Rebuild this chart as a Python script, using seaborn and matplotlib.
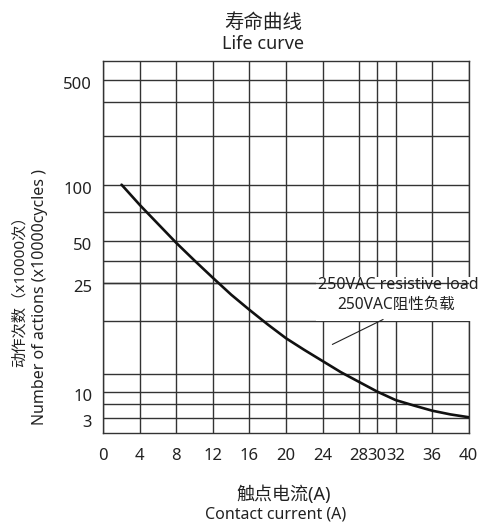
import numpy as np
import pandas as pd
import matplotlib
matplotlib.use("Agg")
import matplotlib.pyplot as plt
import matplotlib.transforms as mtransforms
from matplotlib.patches import Rectangle
import seaborn as sns

# ---- data ----
current = [2, 4, 6, 8, 10, 12, 14, 16, 18, 20, 22, 24, 26, 28, 30, 32, 34, 36, 38, 40]
cycles = [100, 81.6, 64.9, 48.7, 35, 27.4, 23.5, 21.5, 19.7, 18.4, 17.3, 16.25,
          15.2, 12.8, 10, 7.2, 5.6, 4.5, 3.7, 3.1]
x_ticks = [0, 4, 8, 12, 16, 20, 24, 28, 30, 32, 36, 40]
y_ticks = [3, 10, 25, 50, 100, 500]
y_tick_labels = ["3", "10", "25", "50", "100", "500"]
y_grid_extra = [6, 15, 20, 35, 75, 250, 400]

# irregular y axis of the original chart: value -> fraction of axis height
scale_vals = [0, 3, 6, 10, 15, 20, 25, 35, 50, 75, 100, 250, 400, 500, 600]
scale_pos = [0, 0.0403, 0.0780, 0.1102, 0.1570, 0.2995, 0.4016, 0.4624,
             0.5145, 0.5925, 0.6667, 0.7970, 0.8882, 0.9489, 1.0]


def fwd(v):
    return np.interp(v, scale_vals, scale_pos)


def inv(p):
    return np.interp(p, scale_pos, scale_vals)


sns.set_style("white")
plt.rcParams["font.family"] = ["Noto Sans", "Noto Sans CJK SC", "DejaVu Sans"]
plt.rcParams["axes.unicode_minus"] = False

df = pd.DataFrame({"current": current, "cycles": cycles})

fig = plt.figure(figsize=(4.78, 5.23), dpi=100)
ax = fig.add_axes([0.2161, 0.1727, 0.7645, 0.7112])
ax.set_yscale("function", functions=(fwd, inv))

grid_col = "#333333"
sns.lineplot(data=df, x="current", y="cycles", ax=ax, color="#111111",
             linewidth=1.9, zorder=5)

ax.set_xlim(0, 40)
ax.set_ylim(0, 600)
ax.set_xticks(x_ticks)
ax.set_xticklabels([str(t) for t in x_ticks])
ax.set_yticks(y_ticks)
ax.set_yticklabels(y_tick_labels)
ax.set_yticks(y_grid_extra, minor=True)
ax.grid(True, which="both", color=grid_col, linewidth=1.0)
ax.set_axisbelow(True)
ax.tick_params(axis="both", which="both", length=0, labelsize=12, colors="#222222")
ax.tick_params(axis="x", pad=11)
ax.tick_params(axis="y", pad=8)
for s in ax.spines.values():
    s.set_color(grid_col)
    s.set_linewidth(1.0)
ax.set_xlabel("")
ax.set_ylabel("")

off = mtransforms.ScaledTranslation(0, -3 / 100, fig.dpi_scale_trans)
for lab in ax.get_yticklabels():
    lab.set_transform(lab.get_transform() + off)

# annotation: white label area (covers grid), the 25 gridline stays on top
ax.add_patch(Rectangle((0.582, 0.301), 0.43, 0.118, transform=ax.transAxes,
                       facecolor="white", edgecolor="none", zorder=3, clip_on=False))
ax.axhline(25, color=grid_col, linewidth=1.0, zorder=3.5)
ax.text(0.8065, 0.397, "250VAC resistive load", transform=ax.transAxes,
        ha="center", va="center", fontsize=11.5, color="#222222", clip_on=False, zorder=6)
ax.text(0.80, 0.3433, "250VAC阻性负载", transform=ax.transAxes,
        ha="center", va="center", fontsize=11.2, color="#222222", zorder=6)
ax.annotate("", xy=(24.8, 17.7), xytext=(30.9, 20.4),
            arrowprops=dict(arrowstyle="-", color="#222222", linewidth=0.8), zorder=6)

# titles and axis labels
fig.text(0.551, 0.9566, "寿命曲线", ha="center", va="center", fontsize=14, color="#222222")
fig.text(0.551, 0.9168, "Life curve", ha="center", va="center", fontsize=13, color="#222222")
fig.text(0.5927, 0.0535, "触点电流(A)", ha="center", va="center", fontsize=13, color="#222222")
fig.text(0.5774, 0.0172, "Contact current (A)", ha="center", va="center", fontsize=11.5, color="#222222")
fig.text(0.0418, 0.4493, "动作次数（x10000次）", ha="center", va="center", rotation=90,
         fontsize=11, color="#222222")
fig.text(0.0837, 0.4321, "Number of actions (x10000cycles )", ha="center", va="center",
         rotation=90, fontsize=11.5, color="#222222")

fig.savefig("out.png", dpi=100)
